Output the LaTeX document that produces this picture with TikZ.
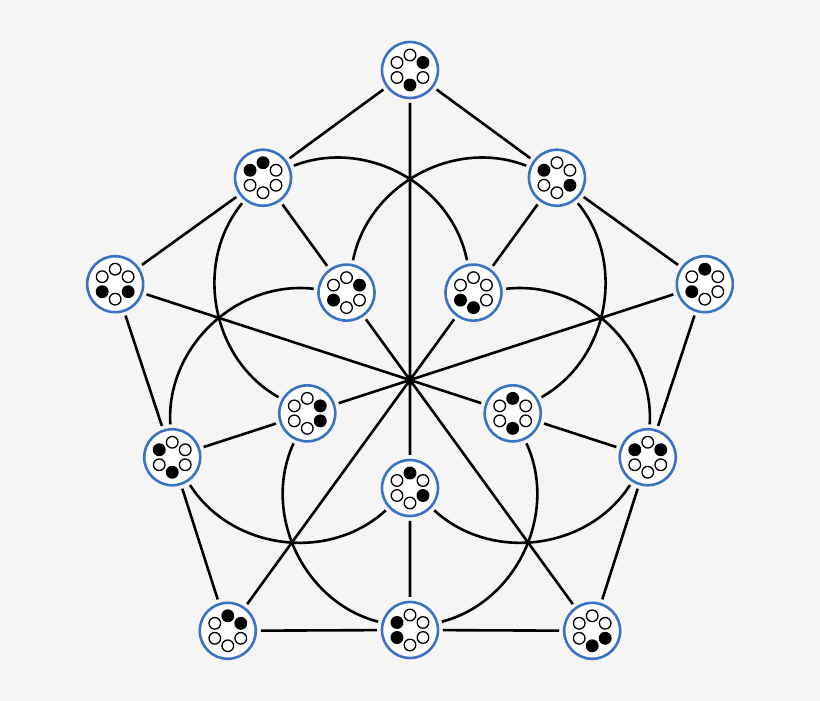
\documentclass[tikz,border=0pt]{standalone}
\definecolor{bgc}{RGB}{245,245,245}
\definecolor{bluec}{RGB}{58,114,196}
\begin{document}
\begin{tikzpicture}[x=1pt,y=1pt,
  vnode/.style={circle,draw=bluec,line width=2.6pt,fill=white,minimum size=56pt,inner sep=0pt,outer sep=5pt},
  edge/.style={line width=2.6pt,black},
  dot/.style={line width=1.3pt,draw=black}]
\fill[bgc] (-410,380) rectangle (410,-321);
\useasboundingbox (-410,380) rectangle (410,-321);
\newcommand{\hx}[4]{%
  \node[vnode] (#1) at (#2) {};
  \foreach \k in {0,...,5}{%
    \pgfmathsetmacro{\ang}{90-60*\k}%
    \ifnum\k=#3 \def\fc{black}\else\ifnum\k=#4 \def\fc{black}\else\def\fc{white}\fi\fi
    \filldraw[dot,fill=\fc] (#1.center) ++(\ang:15) circle (5.8);
  }}
\hx{n1}{90:310}{1}{3}
\hx{n4}{162:310}{4}{2}
\hx{n13}{234:310}{0}{1}
\hx{n15}{306:310}{2}{3}
\hx{n5}{18:310}{0}{4}
\hx{n2}{126:250}{0}{5}
\hx{n10}{198:250}{5}{3}
\hx{n14}{270:250}{5}{4}
\hx{n11}{342:250}{5}{1}
\hx{n3}{54:250}{5}{2}
\hx{n6}{126:108}{1}{4}
\hx{n8}{198:108}{1}{2}
\hx{n12}{270:108}{0}{2}
\hx{n9}{342:108}{0}{3}
\hx{n7}{54:108}{4}{3}
\draw[edge] (n1)--(n2) (n1)--(n3) (n2)--(n4) (n3)--(n5) (n4)--(n10) (n5)--(n11)
  (n10)--(n13) (n11)--(n15) (n13)--(n14) (n14)--(n15);
\draw[edge] (n2)--(n6) (n3)--(n7) (n10)--(n8) (n11)--(n9) (n14)--(n12);
\draw[edge] (n1)--(n12) (n4)--(n9) (n5)--(n8) (n13)--(n7) (n15)--(n6);
\draw[edge] (n2) to[bend left=50] (n7);
\draw[edge] (n3) to[bend right=50] (n6);
\draw[edge] (n2) to[bend right=50] (n8);
\draw[edge] (n3) to[bend left=50] (n9);
\draw[edge] (n6) to[bend right=50] (n10);
\draw[edge] (n7) to[bend left=50] (n11);
\draw[edge] (n10) to[bend right=50] (n12);
\draw[edge] (n11) to[bend left=50] (n12);
\draw[edge] (n8) to[bend right=50] (n14);
\draw[edge] (n9) to[bend left=50] (n14);
\end{tikzpicture}
\end{document}
